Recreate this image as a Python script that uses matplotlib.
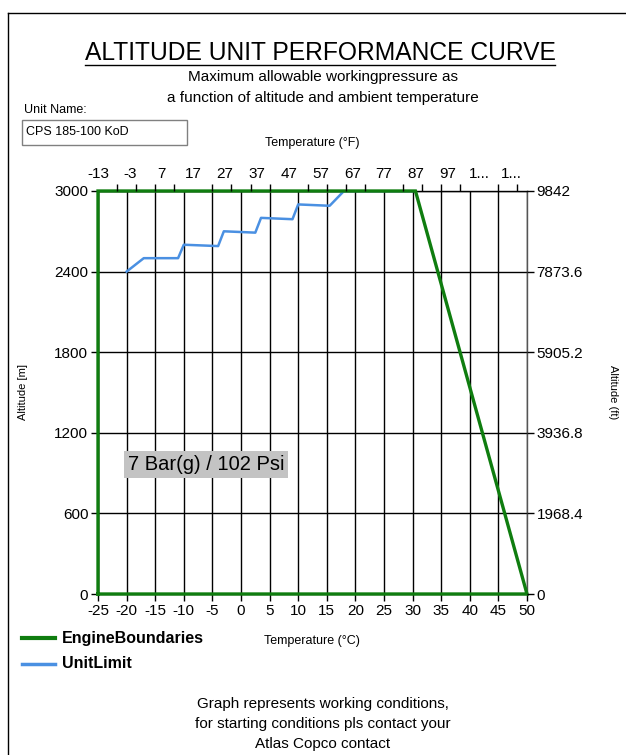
import matplotlib
matplotlib.use("Agg")
import matplotlib.pyplot as plt
from matplotlib.lines import Line2D
from matplotlib.patches import Rectangle

plt.rcParams['font.family'] = ['Liberation Sans', 'DejaVu Sans']
plt.rcParams['axes.unicode_minus'] = False

# --- data ---
engine_temp_c = [-25, -25, 30.5, 50, -25]
engine_alt_m = [0, 3000, 3000, 0, 0]

unit_temp_c = [-20, -17, -11, -10, -4, -3, 2.5, 3.5, 9, 10, 15.5, 18, 30]
unit_alt_m = [2400, 2500, 2500, 2600, 2590, 2700, 2690, 2800, 2790, 2900, 2890, 3000, 3000]

temp_c_ticks = list(range(-25, 51, 5))
alt_m_ticks = [0, 600, 1200, 1800, 2400, 3000]
alt_ft_labels = ['0', '1968.4', '3936.8', '5905.2', '7873.6', '9842']
temp_f_ticks = [-13, -3, 7, 17, 27, 37, 47, 57, 67, 77, 87, 97, 107, 117]
temp_f_labels = ['-13', '-3', '7', '17', '27', '37', '47', '57', '67', '77', '87', '97', '1...', '1...']
temp_f_minor = list(range(-13, 123, 6))

W, H = 626, 755
fig = plt.figure(figsize=(W / 100, H / 100), dpi=100)


def fx(px):
    return px / W


def fy(py):
    return 1 - py / H


ax = fig.add_axes([fx(98), fy(594), fx(527) - fx(98), fy(191) - fy(594)])
ax.set_xlim(-25, 50)
ax.set_ylim(0, 3000)
ax.set_xticks(temp_c_ticks)
ax.set_yticks(alt_m_ticks)
ax.grid(True, color='black', linewidth=1.0)
ax.set_axisbelow(True)
ax.tick_params(direction='out', length=5, width=1, labelsize=11, pad=2)
for s in ax.spines.values():
    s.set_color('black')
    s.set_linewidth(1.0)
ax.spines['right'].set_color('#555555')

ax.plot(unit_temp_c, unit_alt_m, color='#4a90e2', linewidth=1.8, zorder=3,
        solid_joinstyle='round')
ax.plot(engine_temp_c, engine_alt_m, color='#0f7d0f', linewidth=2.4, zorder=4,
        clip_on=False, solid_joinstyle='miter')

ax.text(-19.8, 965, '7 Bar(g) / 102 Psi', fontsize=14.5, va='center', ha='left',
        bbox=dict(boxstyle='square,pad=0.2', facecolor='#c3c3c3', edgecolor='none'), zorder=5)

# top axis in Fahrenheit
axt = ax.twiny()
axt.set_xlim(-13, 122)
axt.set_xticks(temp_f_ticks)
axt.set_xticklabels(temp_f_labels)
axt.set_xticks(temp_f_minor, minor=True)
axt.tick_params(axis='x', which='major', length=0, labelsize=11, pad=7)
axt.tick_params(axis='x', which='minor', direction='out', length=5, width=1)
for s in axt.spines.values():
    s.set_visible(False)

# right axis in feet
axr = ax.twinx()
axr.set_ylim(0, 3000)
axr.set_yticks(alt_m_ticks)
axr.set_yticklabels(alt_ft_labels)
axr.tick_params(axis='y', direction='out', length=5, width=1, labelsize=11, pad=2)
for s in axr.spines.values():
    s.set_visible(False)

# titles and labels
fig.text(fx(320), fy(53), 'ALTITUDE UNIT PERFORMANCE CURVE', fontsize=17.7,
         ha='center', va='center')
fig.add_artist(Line2D([fx(85), fx(555)], [fy(65), fy(65)], color='black', linewidth=1))
fig.text(fx(323), fy(77), 'Maximum allowable workingpressure as', fontsize=11,
         ha='center', va='center')
fig.text(fx(323), fy(98), 'a function of altitude and ambient temperature', fontsize=11,
         ha='center', va='center')
fig.text(fx(24), fy(110), 'Unit Name:', fontsize=9, ha='left', va='center')
fig.add_artist(Rectangle((fx(22), fy(145)), fx(187) - fx(22), fy(120) - fy(145),
                         facecolor='white', edgecolor='#808080', linewidth=1))
fig.text(fx(26), fy(132), 'CPS 185-100 KoD', fontsize=9, ha='left', va='center')
fig.text(fx(312), fy(143), 'Temperature (°F)', fontsize=9, ha='center', va='center')
fig.text(fx(312), fy(641), 'Temperature (°C)', fontsize=9, ha='center', va='center')
fig.text(fx(23), fy(392), 'Altitude [m]', fontsize=8, rotation=90, ha='center', va='center')
fig.text(fx(613), fy(392), 'Altitude (ft)', fontsize=8, rotation=-90, ha='center', va='center')

# legend
fig.add_artist(Line2D([fx(22), fx(55)], [fy(638), fy(638)], color='#0f7d0f', linewidth=3))
fig.text(fx(62), fy(638), 'EngineBoundaries', fontsize=11.5, fontweight='bold', ha='left', va='center')
fig.add_artist(Line2D([fx(22), fx(55)], [fy(664), fy(664)], color='#4a90e2', linewidth=2.5))
fig.text(fx(62), fy(664), 'UnitLimit', fontsize=11.5, fontweight='bold', ha='left', va='center')

# footer
fig.text(fx(323), fy(704), 'Graph represents working conditions,', fontsize=11, ha='center', va='center')
fig.text(fx(323), fy(724), 'for starting conditions pls contact your', fontsize=11, ha='center', va='center')
fig.text(fx(323), fy(744), 'Atlas Copco contact', fontsize=11, ha='center', va='center')

# outer frame
fig.add_artist(Line2D([fx(8), fx(8)], [fy(13), 0], color='black', linewidth=1))
fig.add_artist(Line2D([fx(8), 1], [fy(13), fy(13)], color='black', linewidth=1))

fig.savefig('out.png', dpi=100)
